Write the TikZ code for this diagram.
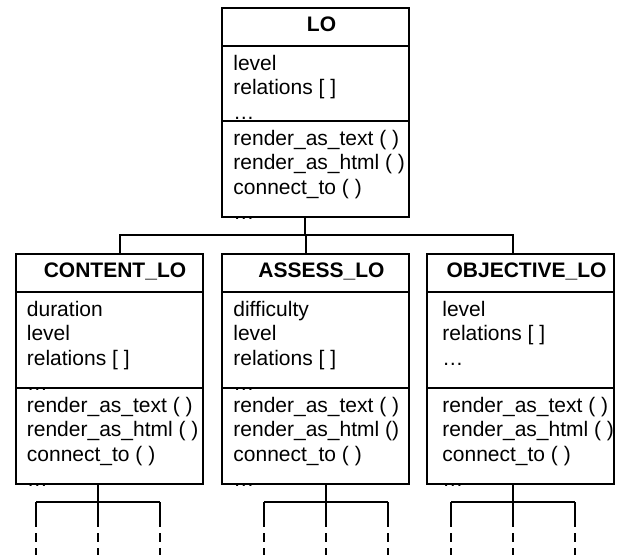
\documentclass[tikz,border=0pt]{standalone}
\usepackage{fontspec}
\setmainfont{Liberation Sans}
\usetikzlibrary{calc,positioning}

\newcommand{\us}{\char"5F\relax}

\tikzset{
  hd/.style={draw, line width=1pt, minimum width=93.5pt, minimum height=19pt,
    inner ysep=0pt, outer sep=0pt, text height=7.5pt, text depth=2.5pt,
    font=\bfseries\fontsize{10.5}{12.25}\selectfont},
  part/.style={draw, line width=1pt, minimum width=93.5pt, outer sep=0pt},
  members/.style={anchor=north west, inner xsep=5.5pt, inner ysep=4.2pt,
    align=left, font=\fontsize{10.5}{12.4}\selectfont},
  link/.style={line width=1pt},
  leg/.style={line width=1pt, dash pattern=on 4.5pt off 3pt}
}

\begin{document}
\begin{tikzpicture}[x=0.5pt, y=-0.5pt]
  \useasboundingbox (0,0) rectangle (620,555);

  % base class
  \node[hd, anchor=north] (lo) at (315.5,8) {\hspace{6pt}LO};
  \node[part, minimum height=37.5pt, below=0pt of lo] (lo-a) {};
  \node[part, minimum height=48pt, below=0pt of lo-a] (lo-m) {};
  \node[members] (lo-at) at (lo-a.north west) {level\\relations [ ]\\…};
  \node[members] (lo-mt) at (lo-m.north west)
    {render\us as\us text ( )\\render\us as\us html ( )\\connect\us to ( )\\…};

  % derived classes
  \node[hd, anchor=north] (cl) at (109,254) {\hspace{6pt}CONTENT\us LO};
  \node[part, minimum height=48pt, below=0pt of cl] (cl-a) {};
  \node[part, minimum height=48pt, below=0pt of cl-a] (cl-m) {};
  \node[members] (cl-at) at (cl-a.north west)
    {duration\\level\\relations [ ]\\…};
  \node[members] (cl-mt) at (cl-m.north west)
    {render\us as\us text ( )\\render\us as\us html ( )\\connect\us to ( )\\…};

  \node[hd, anchor=north] (as) at (315.5,254) {\hspace{6pt}ASSESS\us LO};
  \node[part, minimum height=48pt, below=0pt of as] (as-a) {};
  \node[part, minimum height=48pt, below=0pt of as-a] (as-m) {};
  \node[members] (as-at) at (as-a.north west)
    {difficulty\\level\\relations [ ]\\…};
  \node[members] (as-mt) at (as-m.north west)
    {render\us as\us text ( )\\render\us as\us html ()\\connect\us to ( )\\…};

  \node[hd, anchor=north] (ob) at (520.5,254) {\hspace{6pt}OBJECTIVE\us LO};
  \node[part, minimum height=48pt, below=0pt of ob] (ob-a) {};
  \node[part, minimum height=48pt, below=0pt of ob-a] (ob-m) {};
  \node[members, inner xsep=7.5pt] (ob-at) at (ob-a.north west)
    {level\\relations [ ]\\…};
  \node[members, inner xsep=7.5pt] (ob-mt) at (ob-m.north west)
    {render\us as\us text ( )\\render\us as\us html ( )\\connect\us to ( )\\…};

  % inheritance
  \coordinate (bus) at ($(lo-m.south)+(-10.5,18)$);
  \draw[link] ($(lo-m.south)+(-10.5,0)$) -- (bus);
  \draw[link] (bus) -| ($(cl.north)+(11,0)$);
  \draw[link] (bus) -| ($(as.north)+(-9.5,0)$);
  \draw[link] (bus) -| ($(ob.north)+(-7.5,0)$);

  % children, cut off
  \foreach \c/\s in {cl/-11, as/10.5, ob/-7.5} {
    \coordinate (\c-j) at ($(\c-m.south)+(\s,18)$);
    \draw[link] ($(\c-m.south)+(\s,0)$) -- (\c-j);
    \draw[link] ($(\c-j)+(-62,0)$) -- ($(\c-j)+(62,0)$);
    \foreach \d/\k in {-62/l, 0/c, 62/r} {
      \coordinate (\c-\k1) at ($(\c-j)+(\d,0)$);
      \coordinate (\c-\k2) at ($(\c-j)+(\d,16)$);
      \coordinate (\c-\k3) at ($(\c-j)+(\d,53)$);
      \draw[link] (\c-\k1) -- (\c-\k2);
      \draw[leg] (\c-\k2) -- (\c-\k3);
    }
  }
\end{tikzpicture}
\end{document}
